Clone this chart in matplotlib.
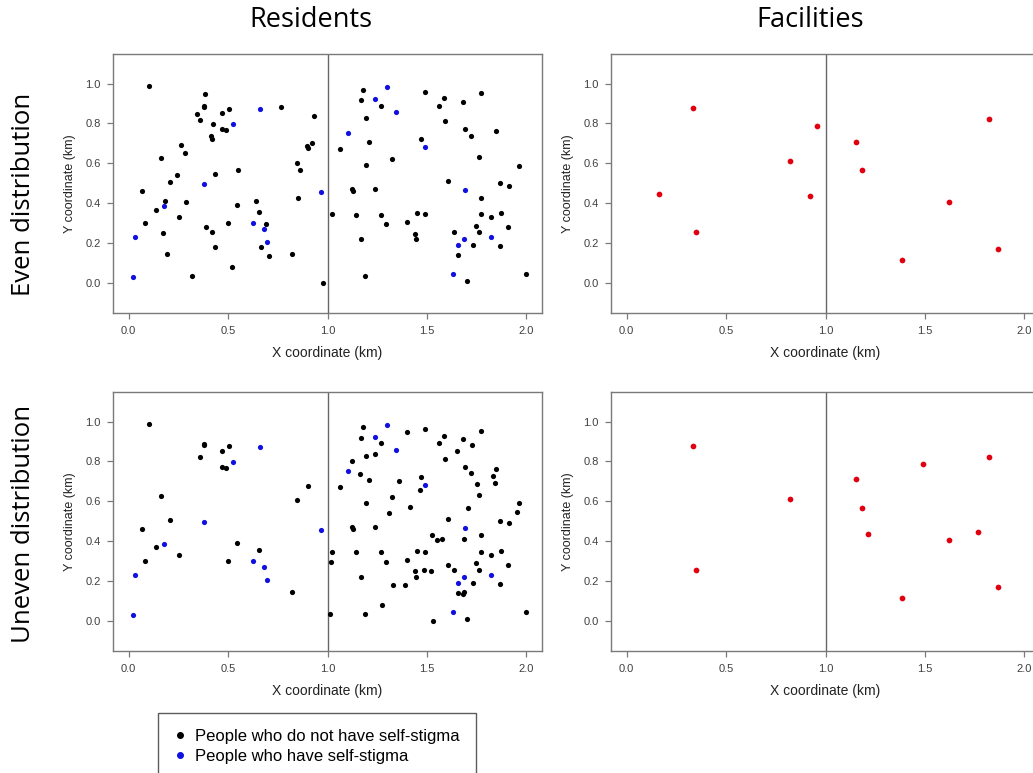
import matplotlib.pyplot as plt
from matplotlib.lines import Line2D

# Residents, even distribution (people without self-stigma)
even_x = [0.10, 0.384, 0.381, 0.378, 0.346, 0.471, 0.505, 0.359, 0.424, 0.471, 0.49, 0.416, 0.419,
          0.263, 0.283, 0.163, 0.768, 0.933, 0.898, 0.904, 0.924, 0.847, 0.862, 0.552, 0.436, 0.242,
          0.208, 0.067, 0.181, 0.289, 0.544, 0.639, 0.138, 0.658, 0.253, 0.084, 0.498, 0.690, 0.851,
          0.173, 0.388, 0.421, 0.435, 0.664, 0.191, 0.705, 0.824, 0.520, 0.320, 0.977,
          1.176, 1.169, 1.267, 1.193, 1.490, 1.584, 1.562, 1.683, 1.773, 1.589, 1.693, 1.720, 1.847,
          1.208, 1.468, 1.064, 1.326, 1.196, 1.760, 1.965, 1.604, 1.867, 1.913, 1.124, 1.129, 1.238,
          1.770, 1.025, 1.143, 1.267, 1.450, 1.490, 1.294, 1.399, 1.770, 1.824, 1.871, 1.748, 1.763,
          1.909, 1.441, 1.445, 1.168, 1.634, 1.733, 1.867, 1.654, 1.190, 1.701, 1.997]
even_y = [0.987, 0.946, 0.886, 0.881, 0.849, 0.851, 0.874, 0.819, 0.797, 0.772, 0.769, 0.737, 0.724,
          0.692, 0.653, 0.625, 0.881, 0.838, 0.687, 0.677, 0.700, 0.603, 0.565, 0.568, 0.544, 0.539,
          0.506, 0.459, 0.409, 0.405, 0.389, 0.409, 0.367, 0.355, 0.330, 0.300, 0.303, 0.298, 0.427,
          0.253, 0.281, 0.255, 0.179, 0.179, 0.147, 0.134, 0.144, 0.082, 0.034, 0.002,
          0.970, 0.916, 0.889, 0.827, 0.958, 0.925, 0.889, 0.908, 0.951, 0.811, 0.771, 0.739, 0.760,
          0.707, 0.722, 0.673, 0.623, 0.591, 0.630, 0.588, 0.509, 0.501, 0.487, 0.472, 0.461, 0.471,
          0.427, 0.347, 0.343, 0.343, 0.350, 0.347, 0.296, 0.308, 0.347, 0.330, 0.350, 0.288, 0.255,
          0.283, 0.248, 0.219, 0.223, 0.255, 0.189, 0.184, 0.141, 0.034, 0.008, 0.047]

# Residents, uneven distribution (people without self-stigma)
uneven_x = [0.10, 0.381, 0.378, 0.471, 0.505, 0.359, 0.471, 0.49, 0.163, 0.904, 0.847, 0.208, 0.067,
            0.138, 0.253, 0.084, 0.544, 0.658, 0.498, 0.824,
            1.176, 1.169, 1.267, 1.193, 1.240, 1.122, 1.164, 1.208, 1.064, 1.398, 1.490, 1.584, 1.562,
            1.683, 1.728, 1.651, 1.773, 1.589, 1.693, 1.720, 1.847, 1.834, 1.844, 1.752, 1.760, 1.359,
            1.468, 1.463, 1.326, 1.196, 1.414, 1.309, 1.705, 1.965, 1.953, 1.604, 1.867, 1.913, 1.124,
            1.129, 1.238, 1.525, 1.549, 1.574, 1.685, 1.770, 1.025, 1.017, 1.143, 1.267, 1.450, 1.490,
            1.294, 1.399, 1.607, 1.634, 1.748, 1.763, 1.770, 1.824, 1.871, 1.909, 1.441, 1.445, 1.487,
            1.522, 1.168, 1.329, 1.391, 1.733, 1.867, 1.654, 1.686, 1.681, 1.274, 1.012, 1.190, 1.529,
            1.701, 1.997]
uneven_y = [0.988, 0.888, 0.883, 0.853, 0.876, 0.821, 0.774, 0.769, 0.626, 0.678, 0.605, 0.508, 0.459,
            0.369, 0.330, 0.300, 0.389, 0.357, 0.303, 0.144,
            0.972, 0.918, 0.891, 0.829, 0.838, 0.801, 0.737, 0.709, 0.672, 0.948, 0.960, 0.926, 0.891,
            0.910, 0.883, 0.851, 0.953, 0.812, 0.772, 0.740, 0.762, 0.727, 0.693, 0.687, 0.631, 0.702,
            0.724, 0.655, 0.623, 0.593, 0.570, 0.539, 0.566, 0.590, 0.544, 0.511, 0.501, 0.489, 0.472,
            0.461, 0.472, 0.429, 0.407, 0.409, 0.409, 0.429, 0.347, 0.298, 0.345, 0.345, 0.350, 0.348,
            0.298, 0.308, 0.283, 0.256, 0.290, 0.256, 0.348, 0.332, 0.352, 0.283, 0.250, 0.219, 0.256,
            0.253, 0.223, 0.179, 0.179, 0.189, 0.186, 0.141, 0.147, 0.134, 0.082, 0.034, 0.034, 0.002,
            0.008, 0.047]

# People who have self-stigma (same in both rows)
stigma_x = [0.663, 0.523, 0.381, 0.180, 0.966, 0.626, 0.683, 0.698, 0.032, 0.020,
            1.300, 1.240, 1.342, 1.101, 1.490, 1.693, 1.685, 1.656, 1.824, 1.631]
stigma_y = [0.871, 0.796, 0.494, 0.387, 0.456, 0.300, 0.273, 0.206, 0.229, 0.028,
            0.985, 0.920, 0.859, 0.754, 0.680, 0.464, 0.218, 0.191, 0.231, 0.044]

# Facilities
fac_even_x = [0.333, 0.161, 0.350, 0.957, 0.822, 0.924, 1.151, 1.182, 1.386, 1.623, 1.824, 1.866]
fac_even_y = [0.878, 0.447, 0.255, 0.786, 0.610, 0.436, 0.709, 0.565, 0.117, 0.405, 0.821, 0.171]
fac_uneven_x = [0.333, 0.350, 0.822, 1.151, 1.182, 1.215, 1.491, 1.386, 1.623, 1.769, 1.824, 1.866]
fac_uneven_y = [0.879, 0.256, 0.610, 0.710, 0.566, 0.436, 0.787, 0.117, 0.405, 0.447, 0.822, 0.171]

col_titles = ['Residents', 'Facilities']
row_titles = ['Even distribution', 'Uneven distribution']
legend_labels = ['People who do not have self-stigma', 'People who have self-stigma']

plt.rcParams['font.family'] = ['Liberation Sans', 'DejaVu Sans']
fig = plt.figure(figsize=(10.33, 7.73), dpi=100)

W, H = 1033, 773
gray = '#7a7a7a'

def make_ax(left_px, top_px):
    ax = fig.add_axes([left_px / W, 1 - (top_px + 258.5) / H, 429.6 / W, 258.5 / H])
    ax.set_xlim(-0.08, 2.08)
    ax.set_ylim(-0.148, 1.148)
    ax.set_xticks([0, 0.5, 1, 1.5, 2])
    ax.set_xticklabels(['0.0', '0.5', '1.0', '1.5', '2.0'])
    ax.set_yticks([0, 0.2, 0.4, 0.6, 0.8, 1.0])
    ax.set_yticklabels(['0.0', '0.2', '0.4', '0.6', '0.8', '1.0'])
    for s in ax.spines.values():
        s.set_color(gray)
        s.set_linewidth(1.0)
    ax.tick_params(colors=gray, labelcolor='#404040', labelsize=8, length=4.2, width=0.9)
    ax.tick_params(axis='x', pad=5.5)
    ax.tick_params(axis='y', pad=4.5)
    ax.axvline(1.0, color='#666666', linewidth=1.0, zorder=1)
    ax.set_xlabel('X coordinate (km)', fontsize=10, color='#222222', labelpad=7)
    ax.set_ylabel('Y coordinate (km)', fontsize=9, color='#222222', labelpad=7)
    return ax

# Residents panels
ax1 = make_ax(112.7, 54)
ax1.scatter(even_x, even_y, s=14, color='black', linewidths=0, zorder=3)
ax1.scatter(stigma_x, stigma_y, s=14, color='#1010e0', linewidths=0, zorder=3)

ax3 = make_ax(112.7, 392)
ax3.scatter(uneven_x, uneven_y, s=14, color='black', linewidths=0, zorder=3)
ax3.scatter(stigma_x, stigma_y, s=14, color='#1010e0', linewidths=0, zorder=3)

# Facilities panels
ax2 = make_ax(610.7, 54)
ax2.scatter(fac_even_x, fac_even_y, s=17, color='#e00010', linewidths=0, zorder=3)

ax4 = make_ax(610.7, 392)
ax4.scatter(fac_uneven_x, fac_uneven_y, s=17, color='#e00010', linewidths=0, zorder=3)

# Column and row titles
fig.text(311 / W, 1 - 20 / H, col_titles[0], fontsize=19.5, family='Open Sans', ha='center', va='center')
fig.text(810 / W, 1 - 20 / H, col_titles[1], fontsize=19.5, family='Open Sans', ha='center', va='center')
fig.text(24 / W, 1 - 194 / H, row_titles[0], fontsize=18.5, family='Open Sans', rotation=90,
         ha='center', va='center')
fig.text(24 / W, 1 - 524 / H, row_titles[1], fontsize=18.5, family='Open Sans', rotation=90,
         ha='center', va='center')

# Legend
handles = [Line2D([], [], marker='o', linestyle='', color='black', markersize=4),
           Line2D([], [], marker='o', linestyle='', color='#1010e0', markersize=4)]
leg = fig.legend(handles, legend_labels, loc='upper left', bbox_to_anchor=(158 / W, 1 - 712.5 / H),
                 fontsize=12, frameon=True, fancybox=False, borderpad=1.0, handletextpad=0.6,
                 handlelength=0.6, labelspacing=0.3, borderaxespad=0)
leg.get_frame().set_edgecolor('#333333')
leg.get_frame().set_linewidth(1.0)

plt.savefig('out.png', dpi=100)
